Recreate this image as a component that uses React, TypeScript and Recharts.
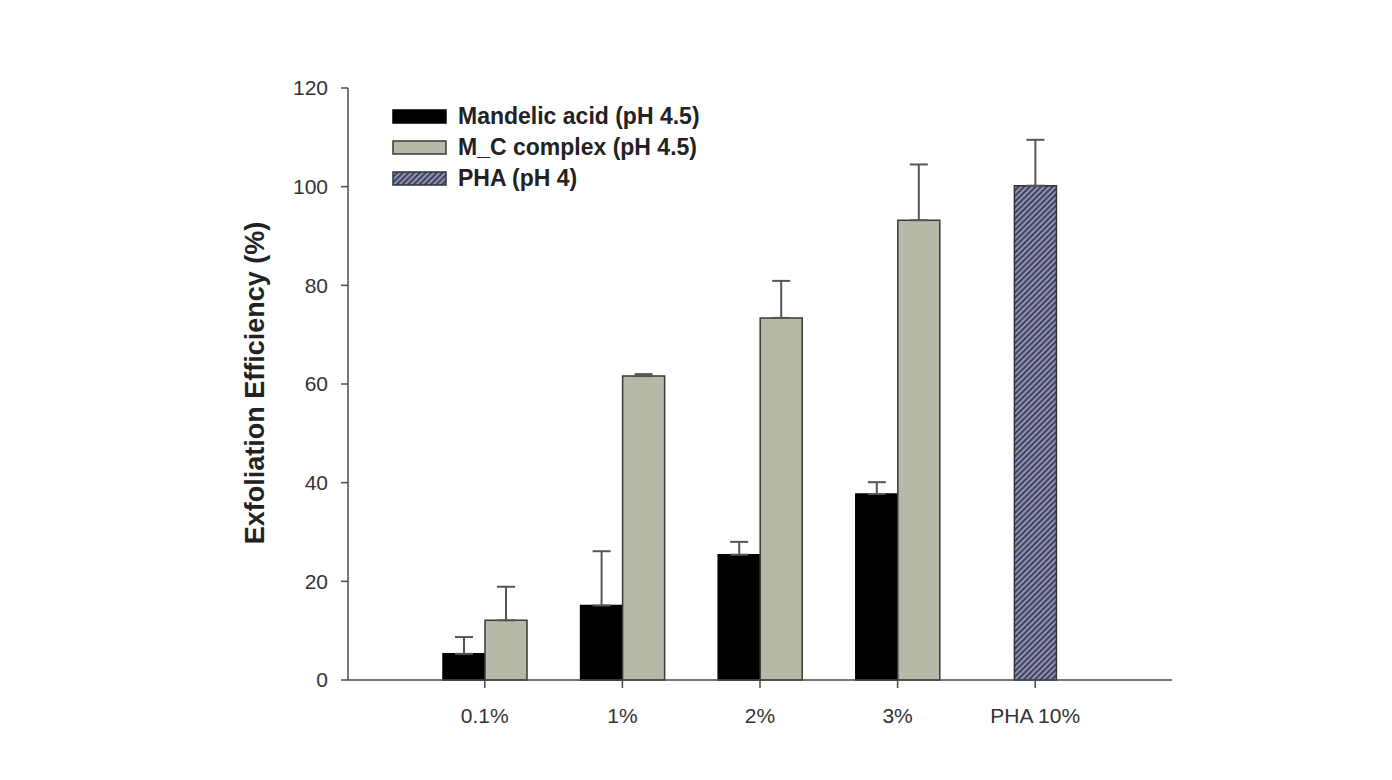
import React from "react";
import { BarChart, Bar, XAxis, YAxis, ErrorBar } from "recharts";

const categories = ["0.1%", "1%", "2%", "3%", "PHA 10%"];
const mandelic = [5.3, 15.1, 25.4, 37.7, null];
const mandelicErr = [3.4, 11.0, 2.6, 2.4, null];
const mcComplex = [12.1, 61.6, 73.4, 93.2, null];
const mcComplexErr = [6.8, 0.4, 7.5, 11.3, null];
const pha = [null, null, null, null, 100.2];
const phaErr = [null, null, null, null, 9.3];
const yTicks = [0, 20, 40, 60, 80, 100, 120];

const seriesNames = ["Mandelic acid (pH 4.5)", "M_C complex (pH 4.5)", "PHA (pH 4)"];

// error bars only go upward, so the lower half is zero
const data = categories.map((name, i) => ({
  name,
  mandelic: mandelic[i],
  mandelicErr: [0, mandelicErr[i] ?? 0],
  mc: mcComplex[i],
  mcErr: [0, mcComplexErr[i] ?? 0],
  pha: pha[i],
  phaErr: [0, phaErr[i] ?? 0],
}));

const FONT = "Arial, 'Liberation Sans', Helvetica, sans-serif";
const AXIS = "#4a4a4a";
const GRAY = "#b6b8a8";

const swatches = [
  { fill: "#000", stroke: "#000" },
  { fill: GRAY, stroke: "#3a3a33" },
  { fill: "url(#phaHatchLegend)", stroke: "#333" },
];

function LegendBox() {
  return (
    <div
      style={{
        position: "absolute",
        top: 93,
        left: 384,
        fontFamily: FONT,
        fontWeight: 700,
        fontSize: 23,
        color: "#222",
      }}
    >
      {seriesNames.map((s, i) => (
        <div key={s} style={{ display: "flex", alignItems: "center", height: 31, whiteSpace: "nowrap" }}>
          <svg width={56} height={16} style={{ marginRight: 10 }}>
            {i === 2 && (
              <defs>
                <pattern id="phaHatchLegend" patternUnits="userSpaceOnUse" width={4} height={4} patternTransform="rotate(45)">
                  <rect x={0} y={0} width={4} height={4} fill="#8e91c0" />
                  <rect x={0} y={0} width={1.8} height={4} fill="#3b3b48" />
                </pattern>
              </defs>
            )}
            <rect x={1} y={1} width={53} height={13} fill={swatches[i].fill} stroke={swatches[i].stroke} strokeWidth={1.5} />
          </svg>
          <span>{s}</span>
        </div>
      ))}
    </div>
  );
}

export default function App() {
  return (
    <div style={{ position: "relative", width: 1380, height: 764, background: "#fff" }}>
      <BarChart
        width={1380}
        height={764}
        data={data}
        barGap={0}
        margin={{ top: 80, right: 216, left: 280, bottom: 62 }}
      >
        <defs>
          <pattern id="phaHatch" patternUnits="userSpaceOnUse" width={4} height={4} patternTransform="rotate(45)">
            <rect x={0} y={0} width={4} height={4} fill="#8e91c0" />
            <rect x={0} y={0} width={1.8} height={4} fill="#3b3b48" />
          </pattern>
        </defs>
        <XAxis
          dataKey="name"
          padding={{ left: 68, right: 68 }}
          axisLine={{ stroke: AXIS, strokeWidth: 1.5 }}
          tickLine={{ stroke: AXIS, strokeWidth: 1.5 }}
          tickSize={8}
          tickMargin={20}
          height={30}
          tick={{ fill: "#333", fontSize: 21, fontFamily: FONT }}
        />
        {/* separate axis so the lone PHA bar sits centred on its tick */}
        <XAxis xAxisId="pha" dataKey="name" padding={{ left: 68, right: 68 }} hide />
        <YAxis
          domain={[0, 120]}
          ticks={yTicks}
          width={60}
          axisLine={{ stroke: AXIS, strokeWidth: 1.5 }}
          tickLine={{ stroke: AXIS, strokeWidth: 1.5 }}
          tickSize={7}
          tickMargin={13}
          tick={{ fill: "#333", fontSize: 21, fontFamily: FONT }}
          label={{
            content: () => (
              <text
                x={247}
                y={375}
                transform="rotate(-90 247 375)"
                textAnchor="middle"
                dominantBaseline="central"
                fontFamily={FONT}
                fontWeight={700}
                fontSize={27}
                fill="#222"
              >
                Exfoliation Efficiency (%)
              </text>
            ),
          }}
        />
        <Bar dataKey="mandelic" name={seriesNames[0]} barSize={42} fill="#000" stroke="#000" strokeWidth={1.5} isAnimationActive={false}>
          <ErrorBar dataKey="mandelicErr" width={9} stroke="#555" strokeWidth={2} direction="y" />
        </Bar>
        <Bar dataKey="mc" name={seriesNames[1]} barSize={42} fill={GRAY} stroke="#3a3a33" strokeWidth={1.5} isAnimationActive={false}>
          <ErrorBar dataKey="mcErr" width={9} stroke="#555" strokeWidth={2} direction="y" />
        </Bar>
        <Bar xAxisId="pha" dataKey="pha" name={seriesNames[2]} barSize={42} fill="url(#phaHatch)" stroke="#333" strokeWidth={1.5} isAnimationActive={false}>
          <ErrorBar dataKey="phaErr" width={9} stroke="#555" strokeWidth={2} direction="y" />
        </Bar>
      </BarChart>
      <LegendBox />
    </div>
  );
}
